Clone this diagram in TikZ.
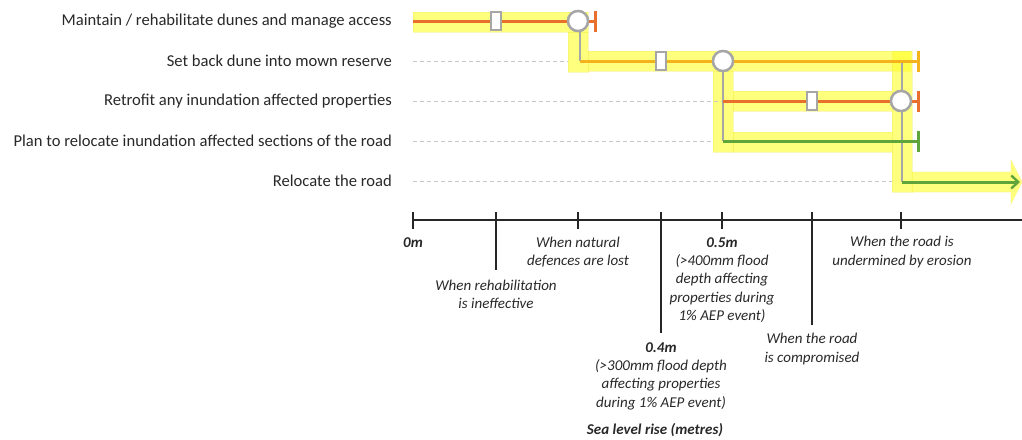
\documentclass[tikz,border=0pt]{standalone}
\usepackage{fontspec}
\setmainfont{Carlito}
\usetikzlibrary{arrows.meta}
\definecolor{bandc}{RGB}{255,255,40}
\definecolor{bandedge}{RGB}{240,235,90}
\definecolor{redor}{RGB}{232,112,44}
\definecolor{amber}{RGB}{244,178,28}
\definecolor{grn}{RGB}{96,164,60}
\definecolor{gry}{RGB}{166,166,166}
\definecolor{dashg}{RGB}{200,200,200}
\definecolor{txt}{RGB}{40,40,40}
\tikzset{
  band/.style={fill=bandc,fill opacity=0.6,draw=bandedge,draw opacity=0.4,line width=0.6pt},
  optlabel/.style={anchor=east,inner sep=0pt,font=\fontsize{16.6}{20}\selectfont,text=txt},
  axlabel/.style={align=center,inner sep=0pt,font=\fontsize{15}{18.3}\selectfont\itshape,text=txt},
  axbold/.style={align=center,inner sep=0pt,font=\fontsize{15}{18.3}\selectfont\bfseries\itshape,text=txt},
  guide/.style={draw=dashg,dashed,dash pattern=on 4pt off 3pt,line width=0.8pt},
  graylink/.style={draw=gry,line width=2pt},
  pathline/.style={line width=3pt,-{Bar[width=21pt,line width=2.6pt]}},
  marker/.style={draw=gry,fill=white,line width=2pt,rectangle,minimum width=10pt,minimum height=18pt,inner sep=0pt},
  tpoint/.style={draw=gry,fill=white,line width=2.4pt,circle,minimum size=20pt,inner sep=0pt},
  tickline/.style={draw=black!85,line width=1.4pt}
}
\begin{document}
\begin{tikzpicture}[x=1pt,y=-1pt]
\useasboundingbox (0,0) rectangle (1022,439);
% yellow bands
\path[band] (413,12) rectangle (588,32);
\path[band] (568,32) rectangle (588,72);
\path[band] (588,51) rectangle (911,71);
\path[band] (713,71) rectangle (733,152);
\path[band] (733,91) rectangle (892,111);
\path[band] (733,132) rectangle (892,152);
\path[band] (892,51) rectangle (912,192);
\path[band] (912,172) -- (1011,172) -- (1011,160) -- (1022,182) -- (1011,204) -- (1011,192) -- (912,192) -- cycle;

% labels
\node[optlabel] (l1) at (392,21) {Maintain / rehabilitate dunes and manage access};
\node[optlabel] (l2) at (392,61) {Set back dune into mown reserve};
\node[optlabel] (l3) at (392,101) {Retrofit any inundation affected properties};
\node[optlabel] (l4) at (392,141) {Plan to relocate inundation affected sections of the road};
\node[optlabel] (l5) at (392,181) {Relocate the road};

% coordinates
\coordinate (s1) at (413,21);
\coordinate (e1) at (597,21);
\coordinate (g2) at (413,61);
\coordinate (s2) at (580,61);
\coordinate (e2) at (920,61);
\coordinate (g3) at (413,101);
\coordinate (s3) at (723,101);
\coordinate (e3) at (920,101);
\coordinate (g4) at (413,141);
\coordinate (s4) at (723,141);
\coordinate (e4) at (920,141);
\coordinate (g5) at (413,181);
\coordinate (j2) at (902,61);
\coordinate (s5) at (902,182);
\coordinate (e5) at (1020,182);

% guides
\draw[guide] (g2) -- (568,61);
\draw[guide] (g3) -- (s3);
\draw[guide] (g4) -- (713,141);
\draw[guide] (g5) -- (892,181);

% transfer points
\node[tpoint] (c1) at (578,21) {};
\node[tpoint] (c2) at (723,61) {};
\node[tpoint] (c3) at (901,101) {};

% gray links
\draw[graylink] (c1.south) ++(2pt,0) |- (s2);
\draw[graylink] (c2.south) -- (s4);
\draw[graylink] (j2) -- (s5);

% pathway lines
\draw[pathline,redor] (s1) -- (e1);
\draw[pathline,amber] (s2) -- (e2);
\draw[pathline,redor] (s3) -- (e3);
\draw[pathline,grn] (s4) -- (e4);
\draw[line width=3pt,grn,-{Straight Barb[length=7pt,width=13pt,line width=2.4pt]}] (s5) -- (e5);

% redraw points on top
\node[tpoint] at (578,21) {};
\node[tpoint] at (723,61) {};
\node[tpoint] at (901,101) {};
\node[marker] (m1) at (496,21) {};
\node[marker] (m2) at (661,61) {};
\node[marker] (m3) at (812,101) {};

% axis
\coordinate (a0) at (413,220);
\coordinate (a1) at (1022,220);
\draw[tickline] (a0) -- (a1);
\draw[tickline] (413,212) -- (413,229);
\draw[tickline] (496,212) -- (496,270);
\draw[tickline] (578,212) -- (578,229);
\draw[tickline] (661,212) -- (661,333);
\draw[tickline] (722,212) -- (722,229);
\draw[tickline] (812,212) -- (812,325);
\draw[tickline] (901,212) -- (901,229);

\node[axbold] (t0) at (413,243) {0m};
\node[axlabel] (t1) at (496,294) {When rehabilitation\\is ineffective};
\node[axlabel] (t2) at (578,252) {When natural\\defences are lost};
\node[axlabel] (t3) at (661,376) {\textbf{0.4m}\\(>300mm flood depth\\affecting properties\\during 1\% AEP event)};
\node[axlabel] (t4) at (722,280) {\textbf{0.5m}\\(>400mm flood\\depth affecting\\properties during\\1\% AEP event)};
\node[axlabel] (t5) at (812,349) {When the road\\is compromised};
\node[axlabel] (t6) at (902,252) {When the road is\\undermined by erosion};
\node[axbold] (t7) at (655,430) {Sea level rise (metres)};
\end{tikzpicture}
\end{document}
